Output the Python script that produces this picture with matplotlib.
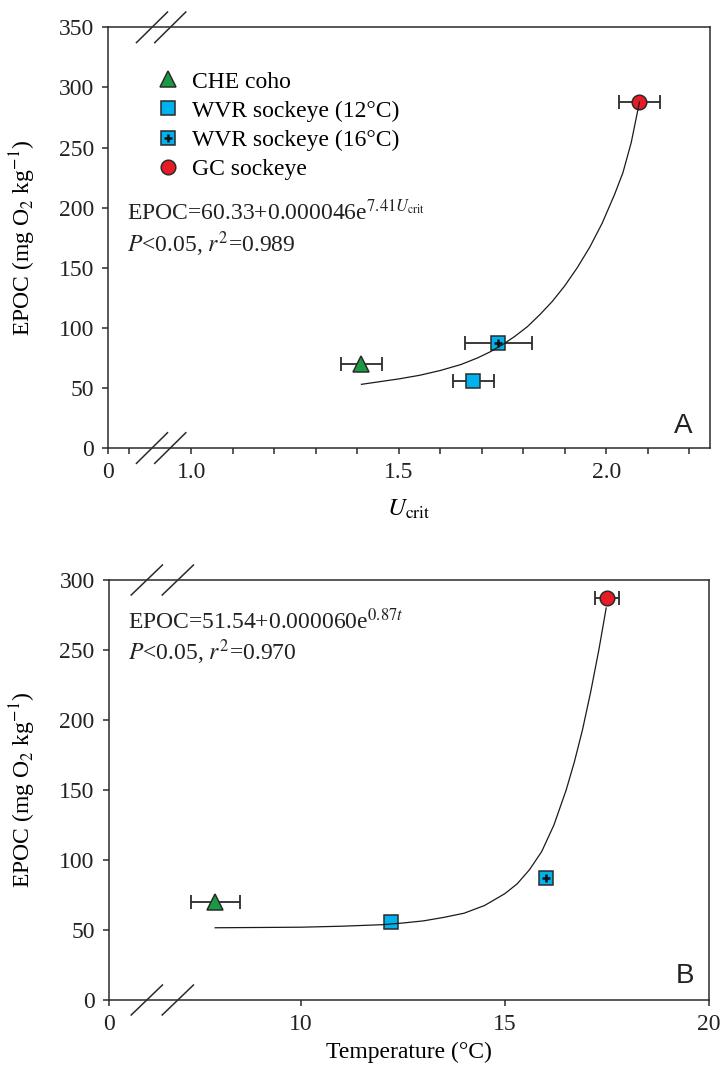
import numpy as np
import matplotlib.pyplot as plt

plt.rcParams['font.family'] = ['Liberation Serif', 'DejaVu Serif']
plt.rcParams['mathtext.fontset'] = 'stix'

labels = ['CHE coho', 'WVR sockeye (12°C)', 'WVR sockeye (16°C)', 'GC sockeye']
fills = ['#1a9a44', '#00b2ee', '#00b2ee', '#e81c24']
markers = ['^', 's', 's', 'o']
msizes = [12, 10, 10, 10.5]

# panel A: EPOC vs Ucrit
ucrit = [1.41, 1.68, 1.74, 2.08]
ucrit_err = [0.05, 0.05, 0.08, 0.05]
epoc_a = [70, 55.5, 87, 288]

# panel B: EPOC vs temperature
temp = [7.9, 12.2, 16.0, 17.5]
temp_err = [0.6, 0.1, 0.15, 0.29]
epoc_b = [70, 56, 87.5, 287.5]

# fitted curves
fit_a_x = [1.41, 1.45, 1.50, 1.55, 1.60, 1.65, 1.69, 1.72, 1.75, 1.78, 1.81,
           1.84, 1.87, 1.90, 1.93, 1.96, 1.99, 2.02, 2.04, 2.06, 2.08]
fit_a_y = [53, 55, 57.5, 60.5, 64.5, 69.5, 75, 80, 86, 93, 101,
           111, 122, 135, 150, 167, 187, 211, 229, 254, 288]
fit_b_x = [7.9, 9, 10, 11, 12, 12.5, 13, 13.5, 14, 14.5, 15, 15.3, 15.6,
           15.9, 16.2, 16.5, 16.7, 16.9, 17.1, 17.3, 17.48]
fit_b_y = [51.6, 51.8, 52, 52.7, 53.8, 55, 56.5, 59, 62, 67.5, 76, 83, 93,
           106, 125, 150, 170, 193, 220, 250, 280]

# axis ticks
a_xticks = [0.8, 0.85, 1.0, 1.1, 1.2, 1.3, 1.4, 1.5, 1.6, 1.7, 1.8, 1.9, 2.0, 2.1, 2.2]
a_xlabels = ['0', '', '1.0', '', '', '', '', '1.5', '', '', '', '', '2.0', '', '']
a_yticks = [0, 50, 100, 150, 200, 250, 300, 350]
b_xticks = [5.3, 10, 15, 20]
b_xlabels = ['0', '10', '15', '20']
b_yticks = [0, 50, 100, 150, 200, 250, 300]

ink = '#2b2b2b'
fig = plt.figure(figsize=(7.21, 10.67), dpi=100)
axA = fig.add_axes([0.1502, 0.5801, 0.8346, 0.3943])
axB = fig.add_axes([0.1512, 0.0628, 0.8322, 0.3936])


def draw_points(ax, xs, xerr, ys):
    handles = []
    for i in range(len(xs)):
        ax.errorbar(xs[i], ys[i], xerr=xerr[i], fmt='none', ecolor=ink,
                    elinewidth=1.3, capsize=4.7, capthick=1.3, zorder=2)
        h, = ax.plot(xs[i], ys[i], linestyle='none', marker=markers[i],
                     ms=msizes[i], mfc=fills[i], mec=ink, mew=1.1, zorder=3)
        if i == 2:
            p, = ax.plot(xs[i], ys[i], linestyle='none', marker='+', ms=6,
                         mec='#111111', mew=1.8, zorder=4)
            h = (h, p)
        handles.append(h)
    return handles


def style(ax):
    for s in ax.spines.values():
        s.set_color(ink)
        s.set_linewidth(1.1)
    ax.tick_params(direction='out', length=4.3, width=1.1, color=ink,
                   labelsize=17, pad=6, labelcolor='#222222')


def breaks(ax, xs, dx, dy):
    for y in (0, 1):
        for x in xs:
            ax.plot([x - dx, x + dx], [y - dy, y + dy], color=ink, lw=1.1,
                    transform=ax.transAxes, clip_on=False, zorder=5)


# ---- panel A
hA = draw_points(axA, ucrit, ucrit_err, epoc_a)
axA.plot(fit_a_x, fit_a_y, color='#1a1a1a', lw=0.9, zorder=4)
axA.set_xlim(0.8, 2.25)
axA.set_ylim(0, 350)
axA.set_xticks(a_xticks)
axA.set_xticklabels(a_xlabels)
axA.set_yticks(a_yticks)
style(axA)
breaks(axA, [0.0726, 0.103], 0.0258, 0.0364)
axA.set_xlabel(r'$U_{\mathrm{crit}}$', fontsize=18, labelpad=10)
axA.set_ylabel(r'EPOC (mg O$_2$ kg$^{-1}$)', fontsize=17)
axA.yaxis.set_label_coords(-0.117, 0.5)
axA.legend(hA, labels, loc='upper left', bbox_to_anchor=(0.080, 0.896),
           frameon=False, fontsize=17, handlelength=1.0, handletextpad=0.5,
           labelspacing=0.32, borderpad=0, borderaxespad=0, numpoints=1)
axA.text(0.0306, 0.542, r'EPOC=60.33+0.000046e$^{7.41U_{\mathrm{crit}}}$',
         transform=axA.transAxes, fontsize=17, va='baseline', color='#222222')
axA.text(0.0306, 0.465, r'$P$<0.05, $r^2$=0.989', transform=axA.transAxes,
         fontsize=17, va='baseline', color='#222222')
axA.text(0.9706, 0.036, 'A', transform=axA.transAxes, fontsize=20,
         family='Liberation Sans', ha='right', va='baseline', color='#222222')

# ---- panel B
draw_points(axB, temp, temp_err, epoc_b)
axB.plot(fit_b_x, fit_b_y, color='#1a1a1a', lw=0.9, zorder=4)
axB.set_xlim(5.3, 20)
axB.set_ylim(0, 300)
axB.set_xticks(b_xticks)
axB.set_xticklabels(b_xlabels)
axB.set_yticks(b_yticks)
style(axB)
breaks(axB, [0.063, 0.1147], 0.026, 0.0357)
axB.set_xlabel('Temperature (°C)', fontsize=17, labelpad=5)
axB.set_ylabel(r'EPOC (mg O$_2$ kg$^{-1}$)', fontsize=17)
axB.yaxis.set_label_coords(-0.119, 0.5)
axB.text(0.032, 0.883, r'EPOC=51.54+0.000060e$^{0.87t}$',
         transform=axB.transAxes, fontsize=17, va='baseline', color='#222222')
axB.text(0.032, 0.8095, r'$P$<0.05, $r^2$=0.970', transform=axB.transAxes,
         fontsize=17, va='baseline', color='#222222')
axB.text(0.975, 0.040, 'B', transform=axB.transAxes, fontsize=20,
         family='Liberation Sans', ha='right', va='baseline', color='#222222')

fig.savefig('out.png', dpi=100)
